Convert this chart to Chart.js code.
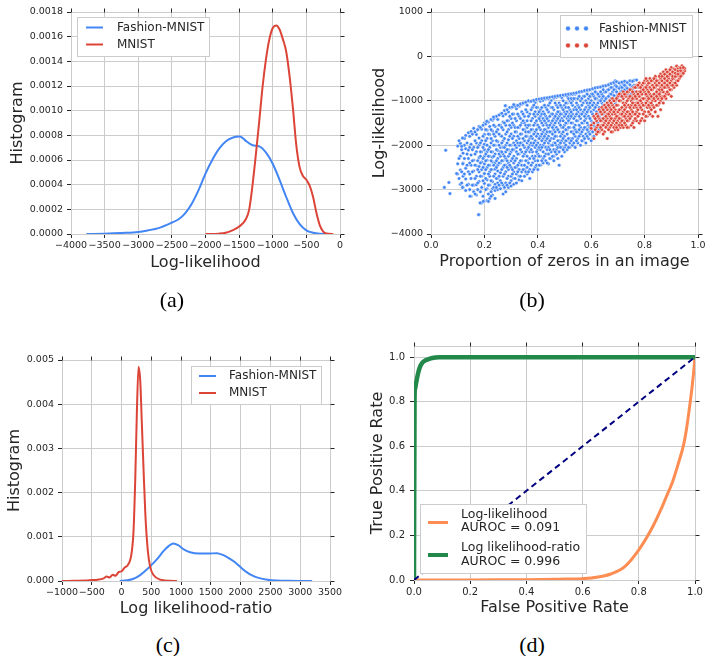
<!DOCTYPE html>
<html><head><meta charset="utf-8">
<script src="https://cdn.jsdelivr.net/npm/chart.js@4.4.0/dist/chart.umd.min.js"></script>
<style>
html,body{margin:0;padding:0;background:#fff;overflow:hidden;width:705px;height:656px;}
canvas{position:absolute;}
.cap{position:absolute;width:80px;text-align:center;font-family:'Liberation Serif','Times New Roman',serif;font-size:22px;line-height:26px;color:#000;}
</style></head><body>
<canvas id="ca" width="352" height="280" style="left:0px;top:0px"></canvas>
<canvas id="cb" width="370" height="280" style="left:352px;top:0px"></canvas>
<canvas id="cc" width="352" height="320" style="left:0px;top:310px"></canvas>
<canvas id="cd" width="370" height="320" style="left:352px;top:310px"></canvas>
<div class="cap" style="left:132px;top:287px">(a)</div>
<div class="cap" style="left:492px;top:287px">(b)</div>
<div class="cap" style="left:128px;top:632px">(c)</div>
<div class="cap" style="left:492px;top:632px">(d)</div>
<script>
// ---------- DATA ----------
const seriesNames = ['Fashion-MNIST', 'MNIST'];

// (a) log-likelihood densities
const fmnistLLx = [-3770,-3500,-3250,-3000,-2850,-2700,-2500,-2400,-2300,-2200,-2100,-2000,-1900,-1800,-1700,-1600,-1500,-1450,-1400,-1300,-1200,-1100,-1000,-900,-800,-700,-600,-500,-400,-300,-200];
const fmnistLLy = [0,0.000003,0.000008,0.000016,0.00003,0.000048,0.000093,0.00012,0.00017,0.00025,0.00036,0.00049,0.0006,0.00069,0.00075,0.00078,0.00079,0.00078,0.000755,0.00072,0.00071,0.00066,0.00057,0.00044,0.0003,0.00017,0.00008,0.00003,0.00001,0.000002,0];
const mnistLLx = [-2000,-1800,-1700,-1600,-1500,-1400,-1350,-1300,-1250,-1200,-1150,-1100,-1050,-1000,-950,-900,-850,-800,-750,-700,-650,-600,-550,-500,-450,-400,-350,-300,-250,-200,-100];
const mnistLLy = [0,0.000003,0.00001,0.00003,0.00006,0.00012,0.0002,0.0004,0.00065,0.00092,0.0012,0.00142,0.00158,0.00167,0.00169,0.00166,0.00158,0.00148,0.00128,0.00102,0.00072,0.00054,0.00047,0.00044,0.00039,0.0003,0.00017,0.00007,0.00002,0.000004,0];
const ticksLLx = [-4000,-3500,-3000,-2500,-2000,-1500,-1000,-500,0];
const ticksHistA = [0,0.0002,0.0004,0.0006,0.0008,0.001,0.0012,0.0014,0.0016,0.0018];

// (b) proportion of zeros vs log-likelihood: columns [x, y1, y2, ...]
const fmnistZeroCols = [
[0.10,-2650,-2020,-2420],[0.11,-2880,-2250,-1960,-2560],[0.12,-1840,-2950,-2180,-2700,-2400],
[0.13,-2080,-2760,-1780,-2520,-3020],[0.14,-1720,-2300,-2880,-2110,-2600],[0.15,-3150,-1980,-2450,-2750,-1690,-2220],
[0.16,-2900,-2050,-1620,-2580,-2340,-3050],[0.17,-1760,-2150,-2700,-2460,-1950,-2890,-3120],
[0.18,-3560,-2600,-1580,-2280,-2000,-2820,-1840,-2480],[0.19,-3300,-2700,-1900,-2380,-2150,-1640,-2950,-2550],
[0.20,-1500,-3260,-2100,-2860,-2420,-1760,-2250,-2640,-1980],[0.21,-1460,-3250,-2000,-2500,-2780,-1850,-2340,-2980,-2150,-1660],
[0.22,-3200,-1580,-2250,-2700,-2050,-2900,-2450,-1760,-2600],[0.23,-1440,-3120,-2380,-1900,-2820,-2150,-2550,-1680,-2980,-2270],
[0.24,-1370,-3200,-2000,-2650,-2400,-1800,-2880,-2200,-1580,-2540,-3020],[0.25,-1420,-2850,-2120,-1650,-2580,-2300,-1920,-2750,-2450,-3000],
[0.26,-1300,-2980,-2250,-1780,-2620,-2050,-2400,-1550,-2800,-2150],[0.27,-3100,-1340,-2500,-1900,-2700,-2200,-1650,-2900,-2350,-2050,-1480],
[0.28,-1110,-3050,-2300,-1750,-2600,-2000,-2450,-1550,-2850,-2150,-1300],[0.29,-1250,-2950,-2100,-1650,-2700,-2400,-1880,-2550,-2250,-1450],
[0.30,-1160,-2920,-2000,-2500,-1750,-2350,-1400,-2700,-2150,-1600,-2800],[0.31,-1090,-2880,-2250,-1550,-2600,-1950,-2400,-1300,-2750,-1800,-2100],
[0.32,-1180,-2850,-2050,-1700,-2500,-1450,-2300,-2650,-1900,-2150],[0.33,-1120,-2780,-2400,-1600,-2200,-1350,-2550,-1850,-2000,-2700],
[0.34,-1080,-2800,-1950,-1500,-2350,-2600,-1750,-2150,-1250,-2450],[0.35,-1050,-2700,-2200,-1650,-2450,-1350,-1900,-2550,-2050,-1500],
[0.36,-1100,-2650,-1800,-2350,-1450,-2100,-1250,-2500,-1950,-1600,-2250],[0.37,-1020,-2750,-2000,-1550,-2300,-1300,-2550,-1700,-2150,-1850],
[0.38,-1000,-2600,-2150,-1400,-1850,-2400,-1150,-1650,-2250,-2000],[0.39,-1040,-2500,-1900,-1500,-2250,-1250,-2050,-1700,-2350,-1350],
[0.40,-980,-2550,-1750,-2100,-1300,-2350,-1550,-1950,-1150,-2200],[0.41,-1010,-2450,-2000,-1450,-1800,-2250,-1200,-1650,-2100,-1350],
[0.42,-990,-2400,-1850,-1550,-2150,-1250,-1700,-2000,-1400,-2300],[0.43,-960,-2350,-1650,-2050,-1350,-1900,-1150,-2200,-1500,-1750],
[0.44,-950,-2420,-1950,-1450,-2200,-1250,-1800,-1600,-2050,-1100],[0.45,-1000,-2300,-1700,-2000,-1300,-2150,-1500,-1850,-1150],
[0.46,-940,-2350,-1850,-1400,-2100,-1200,-1650,-1950,-1550,-2250],[0.47,-920,-2200,-1600,-2000,-1300,-1800,-1100,-2100,-1450],
[0.48,-900,-2450,-1900,-1500,-2150,-1250,-1700,-1050,-2000,-1350],[0.49,-930,-2250,-1750,-1400,-2050,-1150,-1600,-1900,-1300],
[0.50,-880,-2150,-1800,-1350,-1950,-1100,-1550,-2050,-1250],[0.51,-900,-2100,-1650,-1250,-1900,-1050,-1500,-1750,-1400],
[0.52,-870,-2050,-1600,-1200,-1850,-1000,-1400,-1950,-1300],[0.53,-860,-2000,-1700,-1300,-1500,-1100,-1850,-1000],
[0.54,-850,-2050,-1550,-1150,-1800,-1350,-1650,-950],[0.55,-820,-1950,-1450,-1100,-1700,-1250,-1850,-950],
[0.56,-800,-2000,-1600,-1200,-1400,-1750,-1000,-1300],[0.57,-790,-1900,-1500,-1050,-1650,-1250,-1800,-900],
[0.58,-780,-1950,-1400,-1150,-1600,-1000,-1750,-1300],[0.59,-760,-1850,-1550,-1100,-1350,-950,-1700,-1200],
[0.60,-740,-1900,-1450,-1000,-1650,-1250,-850,-1550],[0.61,-730,-1800,-1350,-1050,-1550,-900,-1200],
[0.62,-700,-1700,-1250,-950,-1450,-1100,-820],[0.63,-690,-1650,-1150,-900,-1350,-1000],
[0.64,-680,-1550,-1050,-850,-1250,-950],[0.65,-660,-1450,-1000,-800,-1200],[0.66,-650,-1300,-920,-760,-1100],
[0.67,-620,-1200,-850,-1000,-720],[0.68,-600,-1100,-800,-950,-700],[0.69,-550,-1050,-750,-900,-650],
[0.70,-580,-980,-700,-850],[0.71,-600,-900,-680,-800],[0.72,-620,-850,-720],[0.73,-570,-800,-680],
[0.74,-600,-760,-900],[0.75,-560,-700,-850],[0.76,-540,-650,-800],[0.77,-530,-700]
];
const fmnistZeroColsHalf = [
[0.105,-2300,-2750,-1900],[0.115,-2100,-2600,-2850],[0.125,-2000,-2300,-2650,-1850],[0.135,-1950,-2450,-2900,-2200],
[0.145,-1800,-2650,-2050,-2400,-3000],[0.155,-1750,-2350,-2900,-2100,-2600],[0.165,-1700,-2200,-2750,-2450,-1900,-3100],
[0.175,-1650,-2050,-2550,-2350,-2850,-3000],[0.185,-1600,-2150,-2400,-2700,-1950,-3050,-2250],
[0.195,-1550,-1800,-2300,-2500,-2800,-2050,-3150],[0.205,-1520,-1900,-2200,-2550,-2750,-3000,-2350,-1650],
[0.215,-1480,-2100,-2450,-2650,-1750,-2900,-2250,-3100],[0.225,-1420,-1850,-2150,-2550,-2800,-3050,-2350,-1650,-1950],
[0.235,-1400,-2000,-2450,-2700,-1750,-2950,-2250,-1550],[0.245,-1350,-1700,-2100,-2350,-2750,-2950,-1900,-2500],
[0.255,-1320,-1750,-2000,-2400,-2700,-2900,-2200,-1550],[0.265,-1280,-1600,-1950,-2350,-2550,-2850,-2150,-1800],
[0.275,-1220,-1500,-1850,-2250,-2650,-2950,-2050,-2450],[0.285,-1200,-1450,-1700,-2100,-2500,-2750,-1950,-2350,-2900],
[0.295,-1150,-1550,-1800,-2200,-2450,-2850,-2000,-1350],[0.305,-1140,-1500,-1850,-2100,-2550,-2650,-1300,-2300],
[0.315,-1120,-1400,-1700,-2000,-2350,-2750,-2500,-1600],[0.325,-1100,-1300,-1600,-1950,-2200,-2600,-2450,-1800],
[0.335,-1070,-1400,-1750,-2100,-2350,-2700,-1550,-1950],[0.345,-1050,-1300,-1650,-2000,-2250,-2550,-1850,-1450],
[0.355,-1030,-1200,-1550,-1800,-2150,-2600,-2350,-1700],[0.365,-1000,-1350,-1700,-2050,-2400,-1550,-1900,-2600],
[0.375,-1010,-1200,-1450,-1800,-2100,-2450,-1950,-1650],[0.385,-990,-1300,-1550,-1950,-2300,-2550,-1750,-1100],
[0.395,-970,-1150,-1450,-1800,-2150,-2450,-1650,-2000],[0.405,-960,-1250,-1600,-1850,-2250,-2450,-1400,-2050],
[0.415,-950,-1150,-1500,-1900,-2050,-2350,-1750,-1300],[0.425,-940,-1100,-1450,-1650,-1950,-2250,-1800,-1300],
[0.435,-930,-1200,-1550,-1850,-2100,-2400,-1400,-1700],[0.445,-920,-1050,-1350,-1700,-1900,-2300,-1550,-2100],
[0.455,-910,-1150,-1450,-1750,-2000,-2250,-1300,-1600],[0.465,-900,-1050,-1350,-1500,-1800,-2150,-1700,-1950],
[0.475,-890,-1150,-1400,-1650,-1900,-2300,-1250,-2050],[0.485,-880,-1100,-1300,-1550,-1800,-2050,-1450,-1950],
[0.495,-870,-1000,-1200,-1450,-1700,-2100,-1600,-1850],[0.505,-860,-1050,-1300,-1500,-1650,-1900,-2000,-1150],
[0.515,-850,-950,-1150,-1350,-1600,-1850,-1450,-2050],[0.525,-840,-1050,-1250,-1500,-1700,-1900,-1350,-950],
[0.535,-830,-950,-1200,-1400,-1600,-1950,-1750],[0.545,-820,-1050,-1300,-1450,-1700,-1900,-1200],
[0.555,-800,-900,-1150,-1350,-1550,-1800,-1650],[0.565,-790,-1100,-1300,-1500,-1700,-1900,-950],
[0.575,-770,-900,-1200,-1450,-1600,-1850,-1350],[0.585,-760,-1050,-1250,-1500,-1650,-1800,-850],
[0.595,-750,-900,-1150,-1400,-1750,-1600,-1050],[0.605,-730,-850,-1100,-1300,-1500,-1700],
[0.615,-710,-950,-1150,-1400,-1600,-800],[0.625,-700,-850,-1050,-1300,-1500],[0.635,-690,-800,-1000,-1250,-1400],
[0.645,-670,-900,-1100,-750,-1300],[0.655,-660,-800,-950,-1150],[0.665,-640,-750,-900,-1050],
[0.675,-610,-700,-850,-950],[0.685,-590,-750,-880,-1000],[0.695,-570,-680,-800,-950],[0.705,-600,-720,-850],
[0.715,-580,-700,-780],[0.725,-560,-650,-760],[0.735,-590,-720,-850],[0.745,-550,-640,-780],[0.755,-560,-680,-740]
];
const fmnistZeroOutliers = [[0.05,-2950],[0.055,-2115],[0.067,-2840],[0.071,-3090],[0.096,-2640],[0.118,-1840],[0.115,-2025],[0.119,-2420],[0.118,-2950],[0.146,-3150],[0.178,-3565],[0.184,-3300],[0.196,-3265],[0.215,-3265],[0.225,-3150],[0.209,-1462],[0.234,-1365],[0.278,-1110],[0.31,-1087]];
const mnistZeroCols = [
[0.60,-1550,-1620],[0.61,-1500,-1850,-1350],[0.62,-1600,-1300,-1450,-1750],[0.63,-1400,-1550,-1200,-1700],
[0.64,-1650,-1300,-1450,-1150,-1550],[0.65,-1500,-1250,-1700,-1100,-1380],[0.66,-1850,-1400,-1200,-1550,-1050,-1300],
[0.67,-1600,-1350,-1000,-1450,-1150,-1250],[0.68,-1700,-1300,-1500,-1100,-950,-1400],[0.69,-1550,-1200,-1400,-1000,-1300,-1650],
[0.70,-1650,-1450,-1100,-900,-1250,-1350,-1550],[0.71,-1500,-1200,-1000,-1400,-850,-1300,-1600],
[0.72,-1600,-1350,-1050,-800,-1250,-1450,-950],[0.73,-1550,-1150,-1300,-900,-1400,-1050,-850],
[0.74,-1600,-1250,-1450,-950,-1100,-800,-1350],[0.75,-1550,-1200,-1000,-1350,-750,-1100,-900],
[0.76,-1600,-1300,-850,-1150,-700,-1050,-950,-1450],[0.77,-1450,-1150,-950,-650,-1250,-800,-1050],
[0.78,-1500,-1100,-900,-1300,-700,-600,-1000,-800],[0.79,-1400,-1200,-850,-1050,-650,-950,-750],
[0.80,-1450,-1100,-800,-950,-600,-1250,-700,-550],[0.81,-1350,-1000,-750,-1150,-650,-900,-550],
[0.82,-1300,-1050,-850,-600,-950,-700,-500,-1150],[0.83,-1350,-900,-750,-1100,-550,-650,-1000],
[0.84,-1250,-850,-1000,-600,-700,-500,-450],[0.85,-1350,-950,-750,-1100,-550,-650,-850],
[0.86,-1200,-900,-700,-500,-800,-400,-1000],[0.87,-1050,-800,-600,-450,-700,-900,-350],
[0.88,-950,-700,-550,-850,-400,-300,-650],[0.89,-850,-600,-450,-700,-350,-500],
[0.90,-900,-650,-400,-550,-300,-250,-750],[0.91,-700,-500,-350,-600,-280],[0.92,-650,-450,-300,-550,-220],
[0.93,-500,-380,-250,-440],[0.94,-420,-300,-210,-350],[0.95,-330,-270]
];
const mnistZeroColsHalf = [
[0.615,-1650,-1400],[0.625,-1550,-1350,-1700],[0.635,-1600,-1250,-1450],[0.645,-1750,-1400,-1200,-1550],
[0.655,-1600,-1350,-1150,-1450],[0.665,-1650,-1300,-1100,-1500],[0.675,-1550,-1200,-1400,-1050,-1700],
[0.685,-1600,-1250,-1000,-1450,-1150],[0.695,-1500,-1350,-950,-1100,-1600],[0.705,-1550,-1200,-1000,-1400,-850],
[0.715,-1450,-1150,-900,-1300,-1550],[0.725,-1500,-1100,-1350,-850,-1200],[0.735,-1450,-1000,-1250,-800,-1600],
[0.745,-1400,-1150,-900,-1300,-750],[0.755,-1500,-1050,-1250,-800,-950],[0.765,-1400,-1100,-900,-1300,-700],
[0.775,-1350,-1050,-850,-1200,-650],[0.785,-1450,-1000,-800,-1150,-700],[0.795,-1300,-950,-750,-1100,-600],
[0.805,-1350,-1050,-850,-700,-500],[0.815,-1250,-950,-800,-600,-1100],[0.825,-1200,-900,-750,-550,-1050],
[0.835,-1150,-850,-700,-500,-950],[0.845,-1100,-800,-650,-550,-900],[0.855,-1050,-850,-600,-450,-750],
[0.865,-950,-750,-550,-650,-450],[0.875,-900,-700,-500,-400,-600],[0.885,-800,-650,-450,-550,-350],
[0.895,-750,-600,-400,-300],[0.905,-650,-500,-350,-450],[0.915,-600,-450,-300,-380],[0.925,-550,-400,-280,-330],
[0.935,-450,-320,-260],[0.945,-380,-250]
];
const ticksZerosX = [0,0.2,0.4,0.6,0.8,1.0];
const ticksLLy = [-4000,-3000,-2000,-1000,0,1000];

// (c) log likelihood-ratio densities
const fmnistLLRx = [-30,100,200,300,400,500,600,700,800,870,950,1050,1150,1300,1450,1600,1700,1800,1900,2000,2100,2200,2300,2450,2600,2800,3000,3200];
const fmnistLLRy = [0,0.000015,0.00005,0.00012,0.00023,0.00036,0.0005,0.00067,0.0008,0.00085,0.00081,0.00071,0.00065,0.00062,0.00062,0.00063,0.00059,0.00052,0.00043,0.00031,0.0002,0.00012,0.00007,0.00003,0.000012,0.000004,0.000001,0];
const mnistLLRx = [-1000,-800,-600,-500,-400,-300,-250,-200,-150,-100,-50,0,50,100,150,175,200,230,255,285,313,340,370,400,440,480,540,650,800,930];
const mnistLLRy = [0,0.000005,0.00001,0.00002,0.00003,0.00006,0.0001,0.00008,0.00014,0.00012,0.0002,0.00022,0.0003,0.00035,0.0005,0.0007,0.0011,0.0023,0.0037,0.00485,0.00455,0.0036,0.0025,0.0015,0.0007,0.00032,0.00013,0.00003,0.000005,0];
const ticksLLRx = [-1000,-500,0,500,1000,1500,2000,2500,3000,3500];
const ticksHistC = [0,0.001,0.002,0.003,0.004,0.005];

// (d) ROC curves
const rocNames = [['Log-likelihood','AUROC = 0.091'],['Log likelihood-ratio','AUROC = 0.996']];
const rocLLfpr = [0,0.1,0.2,0.3,0.4,0.5,0.55,0.6,0.65,0.7,0.75,0.8,0.85,0.88,0.9,0.92,0.94,0.96,0.97,0.98,0.99,0.995,1.0];
const rocLLtpr = [0,0,0.0005,0.001,0.0015,0.003,0.004,0.006,0.012,0.027,0.06,0.135,0.24,0.32,0.38,0.44,0.52,0.61,0.68,0.77,0.87,0.93,1.0];
const rocLLRfpr = [0,0.002,0.004,0.007,0.01,0.015,0.021,0.03,0.04,0.05,0.065,0.09,0.2,1.0];
const rocLLRtpr = [0,0.82,0.86,0.88,0.9,0.93,0.955,0.975,0.985,0.99,0.996,0.999,1.0,1.0];
const chanceLine = [0,1];
const ticksRate = [0,0.2,0.4,0.6,0.8,1.0];

// ---------- STYLE ----------
const TEXT = '#262626', GRID = '#cccccc';
const BLUE = '#4285f4', RED = '#db4437', ORANGE = '#fd8d52', GREEN = '#23894a', NAVY = '#000080';
Chart.defaults.font.family = "'DejaVu Sans', sans-serif";
Chart.defaults.color = TEXT;
Chart.defaults.animation = false;

const pts = (xs, ys) => xs.map((x, i) => ({x: x, y: ys[i]}));
const colPts = cols => cols.flatMap(c => c.slice(1).map(y => ({x: c[0], y: y})));
const minusFmt = v => v < 0 ? '\u2212' + Math.abs(v) : String(v);

function scale(axis, min, max, ticks, fmt, title, fitSize, titlePad, fs, tpad) {
  return {
    type: 'linear', min: min, max: max,
    afterBuildTicks: s => { s.ticks = ticks.map(v => ({value: v})); },
    afterFit: s => { if (axis === 'x') s.height = fitSize; else s.width = fitSize; },
    ticks: {callback: v => fmt(v), font: {size: fs}, color: TEXT, padding: tpad,
            maxRotation: 0, minRotation: 0, autoSkip: false},
    grid: {color: GRID, lineWidth: 1, tickLength: 4, tickColor: TEXT, drawTicks: true},
    border: {color: GRID, width: 1},
    title: {display: true, text: title, font: {size: 16}, color: TEXT,
            padding: axis === 'x' ? {top: 0, bottom: titlePad} : {top: titlePad, bottom: 0}}
  };
}

function frameTicks() {
  return {
    id: 'frameTicks',
    beforeDatasetsDraw(chart) {
      const {ctx, chartArea: a} = chart;
      const xs = chart.scales.x, ys = chart.scales.y;
      const al = p => Math.round(p - 0.5) + 0.5;
      ctx.save();
      ctx.lineWidth = 1;
      ctx.strokeStyle = GRID;
      const t = al(a.top), r = al(a.right);
      ctx.beginPath();
      ctx.moveTo(a.left, t); ctx.lineTo(a.right, t);
      ctx.moveTo(r, a.top); ctx.lineTo(r, a.bottom);
      ctx.stroke();
      ctx.strokeStyle = TEXT;
      ctx.beginPath();
      xs.ticks.forEach(tk => { const p = al(xs.getPixelForValue(tk.value)); ctx.moveTo(p, t); ctx.lineTo(p, t - 4); });
      ys.ticks.forEach(tk => { const p = al(ys.getPixelForValue(tk.value)); ctx.moveTo(r, p); ctx.lineTo(r + 4, p); });
      ctx.stroke();
      ctx.restore();
    }
  };
}

function boxLegend(off, L) {
  return {
    id: 'boxLegend',
    afterDatasetsDraw(chart) {
      const ctx = chart.ctx, dx = off[0], dy = off[1];
      const [x0, y0, x1, y1] = L.box;
      ctx.save();
      ctx.fillStyle = '#ffffff';
      ctx.fillRect(x0 - dx, y0 - dy, x1 - x0, y1 - y0);
      ctx.strokeStyle = GRID; ctx.lineWidth = 1;
      ctx.strokeRect(Math.round(x0 - dx) + 0.5, Math.round(y0 - dy) + 0.5, Math.round(x1 - x0), Math.round(y1 - y0));
      L.items.forEach(it => {
        if (it.dots) {
          it.dots.forEach(px => {
            ctx.beginPath();
            ctx.arc(px - dx, it.y - dy, 2.4, 0, Math.PI * 2);
            ctx.fillStyle = it.color; ctx.fill();
            ctx.strokeStyle = '#fff'; ctx.lineWidth = 0.5; ctx.stroke();
          });
        } else {
          ctx.beginPath();
          ctx.strokeStyle = it.color; ctx.lineWidth = it.lw;
          ctx.moveTo(L.lx0 - dx, it.y - dy); ctx.lineTo(L.lx1 - dx, it.y - dy);
          ctx.stroke();
        }
        ctx.fillStyle = TEXT;
        ctx.font = L.fs + "px 'DejaVu Sans'";
        ctx.textBaseline = 'middle'; ctx.textAlign = 'left';
        it.text.forEach((s, i) => ctx.fillText(s, L.tx - dx, it.ty[i] - dy));
      });
      ctx.restore();
    }
  };
}

function make(id, off, W, H, area, type, datasets, xs, ys, legend) {
  new Chart(document.getElementById(id), {
    type: type,
    data: {datasets: datasets},
    options: {
      responsive: false, animation: false, events: [],
      layout: {padding: {left: 0, top: area[1] - off[1], right: off[0] + W - area[2], bottom: 0}},
      plugins: {legend: {display: false}, tooltip: {enabled: false}},
      scales: {x: xs, y: ys}
    },
    plugins: [frameTicks(), boxLegend(off, legend)]
  });
}

const lineDs = (label, data, color, lw, order) => ({
  type: 'line', label: label, data: data, borderColor: color, borderWidth: lw,
  pointRadius: 0, fill: false, cubicInterpolationMode: 'monotone', order: order
});

// (a)
make('ca', [0, 0], 352, 280, [71, 12, 340, 234], 'line', [
  lineDs(seriesNames[0], pts(fmnistLLx, fmnistLLy), BLUE, 2, 1),
  lineDs(seriesNames[1], pts(mnistLLx, mnistLLy), RED, 2, 0)
],
  scale('x', -4000, 0, ticksLLx, minusFmt, 'Log-likelihood', 280 - 234, 280 - 9.6 - 263, 9.5, 2),
  scale('y', 0, 0.0018, ticksHistA, v => v.toFixed(4), 'Histogram', 71, 18 - 9.6, 9.5, 4),
  {box: [77, 17, 209, 56], lx0: 86, lx1: 103, tx: 117, fs: 12, items: [
    {color: BLUE, lw: 2, y: 27.5, text: [seriesNames[0]], ty: [27.5]},
    {color: RED, lw: 2, y: 44.5, text: [seriesNames[1]], ty: [44.5]}
  ]}
);

// (b)
const fmnistScatter = colPts(fmnistZeroCols).concat(colPts(fmnistZeroColsHalf), fmnistZeroOutliers.map(p => ({x: p[0], y: p[1]})));
const mnistScatter = colPts(mnistZeroCols).concat(colPts(mnistZeroColsHalf));
make('cb', [352, 0], 370, 280, [431, 12, 698, 234], 'scatter', [
  {label: seriesNames[0], data: fmnistScatter,
   backgroundColor: BLUE, borderColor: '#ffffff', borderWidth: 0.5, pointRadius: 1.8, order: 1},
  {label: seriesNames[1], data: mnistScatter,
   backgroundColor: RED, borderColor: '#ffffff', borderWidth: 0.5, pointRadius: 1.8, order: 0}
],
  scale('x', 0, 1, ticksZerosX, v => v.toFixed(1), 'Proportion of zeros in an image', 280 - 234, 280 - 9.6 - 262, 9.5, 2),
  scale('y', -4000, 1000, ticksLLy, minusFmt, 'Log-likelihood', 431 - 352, 380 - 352 - 9.6, 9.5, 4),
  {box: [560, 15, 692, 57], tx: 599, fs: 12, items: [
    {color: BLUE, dots: [568, 577, 586], y: 28.5, text: [seriesNames[0]], ty: [28.5]},
    {color: RED, dots: [568, 577, 586], y: 45.5, text: [seriesNames[1]], ty: [45.5]}
  ]}
);

// (c)
make('cc', [0, 310], 352, 320, [62, 360, 330, 581], 'line', [
  lineDs(seriesNames[0], pts(fmnistLLRx, fmnistLLRy), BLUE, 2, 1),
  lineDs(seriesNames[1], pts(mnistLLRx, mnistLLRy), RED, 2, 0)
],
  scale('x', -1000, 3500, ticksLLRx, minusFmt, 'Log likelihood-ratio', 630 - 581, 630 - 9.6 - 609, 9.5, 2),
  scale('y', 0, 0.005, ticksHistC, v => v.toFixed(3), 'Histogram', 62, 14.5 - 9.6, 9.5, 4),
  {box: [191, 366, 321, 404], lx0: 199, lx1: 216, tx: 229, fs: 12, items: [
    {color: BLUE, lw: 2, y: 376, text: [seriesNames[0]], ty: [376]},
    {color: RED, lw: 2, y: 393, text: [seriesNames[1]], ty: [393]}
  ]}
);

// (d)
make('cd', [352, 310], 370, 320, [414, 346, 695, 580], 'line', [
  lineDs(rocNames[0].join(' '), pts(rocLLfpr, rocLLtpr), ORANGE, 3, 2),
  lineDs(rocNames[1].join(' '), pts(rocLLRfpr, rocLLRtpr), GREEN, 4.5, 1),
  Object.assign(lineDs('chance', pts(chanceLine, chanceLine), NAVY, 2, 0), {borderDash: [6, 4], cubicInterpolationMode: 'default', tension: 0})
],
  scale('x', 0, 1, ticksRate, v => v.toFixed(1), 'False Positive Rate', 630 - 580, 630 - 9.6 - 608, 10, 2),
  scale('y', 0, 1.05, ticksRate, v => v.toFixed(1), 'True Positive Rate', 414 - 352, 378 - 352 - 9.6, 10, 5),
  {box: [420, 504, 586, 573], lx0: 428, lx1: 448, tx: 461, fs: 12.5, items: [
    {color: ORANGE, lw: 3, y: 522.5, text: rocNames[0], ty: [515, 528]},
    {color: GREEN, lw: 4, y: 555, text: rocNames[1], ty: [547.5, 561.5]}
  ]}
);
</script>
</body></html>
